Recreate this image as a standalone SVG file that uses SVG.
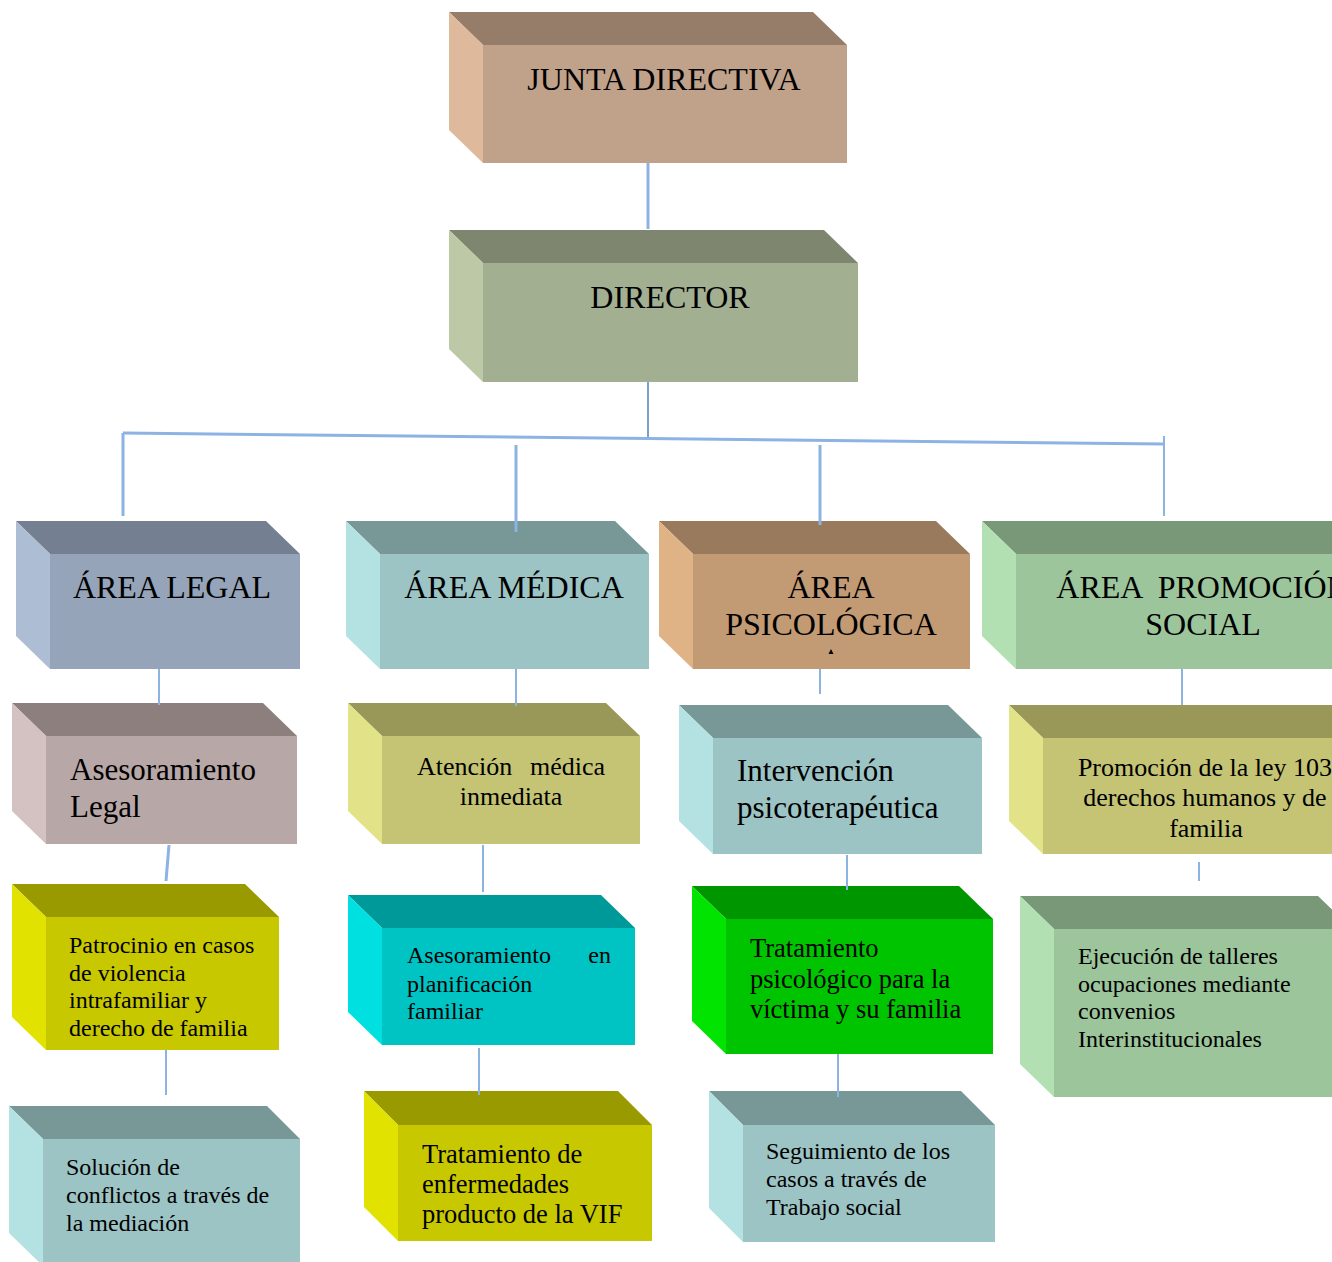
<svg xmlns="http://www.w3.org/2000/svg" width="1332" height="1262" viewBox="0 0 1332 1262">
<style>
text{font-family:"Liberation Serif","Times New Roman",serif;fill:#000}
.c{text-anchor:middle}
.e{text-anchor:end}
.pre{white-space:pre}
.con{stroke:#8db3e2;stroke-width:3;fill:none}
.con2{stroke:#8db3e2;stroke-width:2;fill:none}
.dk{stroke:#4f81bd;stroke-width:1.5;fill:none}
.tan .t{fill:#967d6a}.tan .f{fill:#c0a18a}.tan .l{fill:#dfb99b}
.sage .t{fill:#7e866f}.sage .f{fill:#a3af91}.sage .l{fill:#bcc8a6}
.slate .t{fill:#748092}.slate .f{fill:#95a4b8}.slate .l{fill:#adbdd4}
.aqua .t{fill:#789897}.aqua .f{fill:#9cc4c4}.aqua .l{fill:#b4e2e2}
.brown .t{fill:#997a5c}.brown .f{fill:#c29a74}.brown .l{fill:#e0b387}
.green .t{fill:#799878}.green .f{fill:#9cc59b}.green .l{fill:#b3e0b2}
.rose .t{fill:#8e7f7f}.rose .f{fill:#b8a7a7}.rose .l{fill:#d4c1c1}
.olive .t{fill:#999858}.olive .f{fill:#c4c474}.olive .l{fill:#e2e288}
.yel .t{fill:#999900}.yel .f{fill:#c8c800}.yel .l{fill:#e2e200}
.cyan .t{fill:#009999}.cyan .f{fill:#00c4c4}.cyan .l{fill:#00e0e0}
.lime .t{fill:#009600}.lime .f{fill:#00c400}.lime .l{fill:#00e400}
</style>

<g id="junta" class="tan">
<polygon class="t" points="449,12 813,12 847,45 483,45"/>
<polygon class="l" points="449,12 483,45 483,163 449,130"/>
<rect class="f" x="483" y="45" width="364" height="118"/>
<text class="c" x="664" y="90" font-size="32">JUNTA DIRECTIVA</text>
</g>

<g id="director" class="sage">
<polygon class="t" points="449,230 824,230 858,263 483,263"/>
<polygon class="l" points="449,230 483,263 483,382 449,349"/>
<rect class="f" x="483" y="263" width="375" height="119"/>
<text class="c" x="670" y="308" font-size="32">DIRECTOR</text>
</g>

<g id="area-legal" class="slate">
<polygon class="t" points="16,521 266,521 300,554 50,554"/>
<polygon class="l" points="16,521 50,554 50,669 16,636"/>
<rect class="f" x="50" y="554" width="250" height="115"/>
<text class="c" x="172" y="598" font-size="32">ÁREA LEGAL</text>
</g>

<g id="area-medica" class="aqua">
<polygon class="t" points="346,521 615,521 649,554 380,554"/>
<polygon class="l" points="346,521 380,554 380,669 346,636"/>
<rect class="f" x="380" y="554" width="269" height="115"/>
<text class="c" x="514" y="598" font-size="32">ÁREA MÉDICA</text>
</g>

<g id="area-psicologica" class="brown">
<polygon class="t" points="659,521 936,521 970,554 693,554"/>
<polygon class="l" points="659,521 693,554 693,669 659,636"/>
<rect class="f" x="693" y="554" width="277" height="115"/>
<text class="c" x="831" y="598" font-size="32">ÁREA</text>
<text class="c" x="831" y="635" font-size="32">PSICOLÓGICA</text>
<polygon points="828.5,654 833.5,654 831,649" fill="#000"/>
</g>

<g id="area-promocion" class="green">
<polygon class="t" points="982,521 1356,521 1390,554 1016,554"/>
<polygon class="l" points="982,521 1016,554 1016,669 982,636"/>
<rect class="f" x="1016" y="554" width="374" height="115"/>
<text class="c pre" x="1203" y="598" font-size="32">ÁREA  PROMOCIÓN</text>
<text class="c" x="1203" y="635" font-size="32">SOCIAL</text>
</g>

<g id="asesoramiento-legal" class="rose">
<polygon class="t" points="12,703 263,703 297,736 46,736"/>
<polygon class="l" points="12,703 46,736 46,844 12,811"/>
<rect class="f" x="46" y="736" width="251" height="108"/>
<text x="70" y="780" font-size="31">Asesoramiento</text>
<text x="70" y="817" font-size="31">Legal</text>
</g>

<g id="atencion-medica" class="olive">
<polygon class="t" points="348,703 606,703 640,736 382,736"/>
<polygon class="l" points="348,703 382,736 382,844 348,811"/>
<rect class="f" x="382" y="736" width="258" height="108"/>
<text x="417" y="775" font-size="26">Atención</text>
<text class="e" x="605" y="775" font-size="26">médica</text>
<text class="c" x="511" y="805" font-size="26">inmediata</text>
</g>

<g id="intervencion" class="aqua">
<polygon class="t" points="679,705 948,705 982,738 713,738"/>
<polygon class="l" points="679,705 713,738 713,854 679,821"/>
<rect class="f" x="713" y="738" width="269" height="116"/>
<text x="737" y="781" font-size="31">Intervención</text>
<text x="737" y="818" font-size="31">psicoterapéutica</text>
</g>

<g id="promocion-ley" class="olive">
<polygon class="t" points="1009,705 1366,705 1400,738 1043,738"/>
<polygon class="l" points="1009,705 1043,738 1043,854 1009,821"/>
<rect class="f" x="1043" y="738" width="357" height="116"/>
<text class="c" x="1205" y="776" font-size="26">Promoción de la ley 103</text>
<text class="c" x="1205" y="806" font-size="26">derechos humanos y de</text>
<text class="c" x="1206" y="837" font-size="26">familia</text>
</g>

<g id="patrocinio" class="yel">
<polygon class="t" points="12,884 245,884 279,917 46,917"/>
<polygon class="l" points="12,884 46,917 46,1050 12,1017"/>
<rect class="f" x="46" y="917" width="233" height="133"/>
<text x="69" y="953" font-size="24">Patrocinio en casos</text>
<text x="69" y="981" font-size="24">de violencia</text>
<text x="69" y="1008" font-size="24">intrafamiliar y</text>
<text x="69" y="1036" font-size="24">derecho de familia</text>
</g>

<g id="planificacion" class="cyan">
<polygon class="t" points="348,895 601,895 635,928 382,928"/>
<polygon class="l" points="348,895 382,928 382,1045 348,1012"/>
<rect class="f" x="382" y="928" width="253" height="117"/>
<text x="407" y="963" font-size="24">Asesoramiento</text>
<text class="e" x="611" y="963" font-size="24">en</text>
<text x="407" y="992" font-size="24">planificación</text>
<text x="407" y="1019" font-size="24">familiar</text>
</g>

<g id="tratamiento-psicologico" class="lime">
<polygon class="t" points="692,886 959,886 993,919 726,919"/>
<polygon class="l" points="692,886 726,919 726,1054 692,1021"/>
<rect class="f" x="726" y="919" width="267" height="135"/>
<text x="750" y="957" font-size="26.5">Tratamiento</text>
<text x="750" y="988" font-size="26.5">psicológico para la</text>
<text x="750" y="1018" font-size="26.5">víctima y su familia</text>
</g>

<g id="ejecucion" class="green">
<polygon class="t" points="1020,896 1318,896 1352,929 1054,929"/>
<polygon class="l" points="1020,896 1054,929 1054,1097 1020,1064"/>
<rect class="f" x="1054" y="929" width="298" height="168"/>
<text x="1078" y="964" font-size="24">Ejecución de talleres</text>
<text x="1078" y="992" font-size="24">ocupaciones mediante</text>
<text x="1078" y="1019" font-size="24">convenios</text>
<text x="1078" y="1047" font-size="24">Interinstitucionales</text>
</g>

<g id="solucion" class="aqua">
<polygon class="t" points="9,1106 267,1106 300,1139 43,1139"/>
<polygon class="l" points="9,1106 43,1139 43,1266 9,1233"/>
<rect class="f" x="43" y="1139" width="257" height="127"/>
<text x="66" y="1175" font-size="24">Solución de</text>
<text x="66" y="1203" font-size="24">conflictos a través de</text>
<text x="66" y="1231" font-size="24">la mediación</text>
</g>

<g id="tratamiento-enfermedades" class="yel">
<polygon class="t" points="364,1091 618,1091 652,1125 398,1125"/>
<polygon class="l" points="364,1091 398,1125 398,1241 364,1207"/>
<rect class="f" x="398" y="1125" width="254" height="116"/>
<text x="422" y="1163" font-size="26.5">Tratamiento de</text>
<text x="422" y="1193" font-size="26.5">enfermedades</text>
<text x="422" y="1223" font-size="26.5">producto de la VIF</text>
</g>

<g id="seguimiento" class="aqua">
<polygon class="t" points="709,1091 961,1091 995,1125 743,1125"/>
<polygon class="l" points="709,1091 743,1125 743,1242 709,1208"/>
<rect class="f" x="743" y="1125" width="252" height="117"/>
<text x="766" y="1159" font-size="24">Seguimiento de los</text>
<text x="766" y="1187" font-size="24">casos a través de</text>
<text x="766" y="1215" font-size="24">Trabajo social</text>
</g>

<g id="connectors">
<line class="con" x1="648" y1="163" x2="648" y2="229"/>
<line class="dk" x1="648" y1="382" x2="648" y2="437"/>
<line class="con" x1="123" y1="433" x2="1164" y2="444"/>
<line class="con" x1="123" y1="433" x2="123" y2="516"/>
<line class="con2" x1="1164" y1="436" x2="1164" y2="516"/>
<line class="con" x1="516" y1="445" x2="516" y2="532"/>
<line class="con" x1="820" y1="445" x2="820" y2="525"/>
<line class="con2" x1="159" y1="669" x2="159" y2="705"/>
<line class="con2" x1="516" y1="669" x2="516" y2="706"/>
<line class="con2" x1="820" y1="669" x2="820" y2="694"/>
<line class="con2" x1="1182" y1="669" x2="1182" y2="705"/>
<line class="con" x1="169" y1="845" x2="166" y2="881"/>
<line class="con2" x1="483" y1="845" x2="483" y2="892"/>
<line class="con2" x1="847" y1="855" x2="847" y2="890"/>
<line class="con2" x1="1199" y1="862" x2="1199" y2="881"/>
<line class="con2" x1="166" y1="1050" x2="166" y2="1095"/>
<line class="con2" x1="479" y1="1048" x2="479" y2="1095"/>
<line class="con2" x1="838" y1="1054" x2="838" y2="1097"/>
</g>
</svg>
